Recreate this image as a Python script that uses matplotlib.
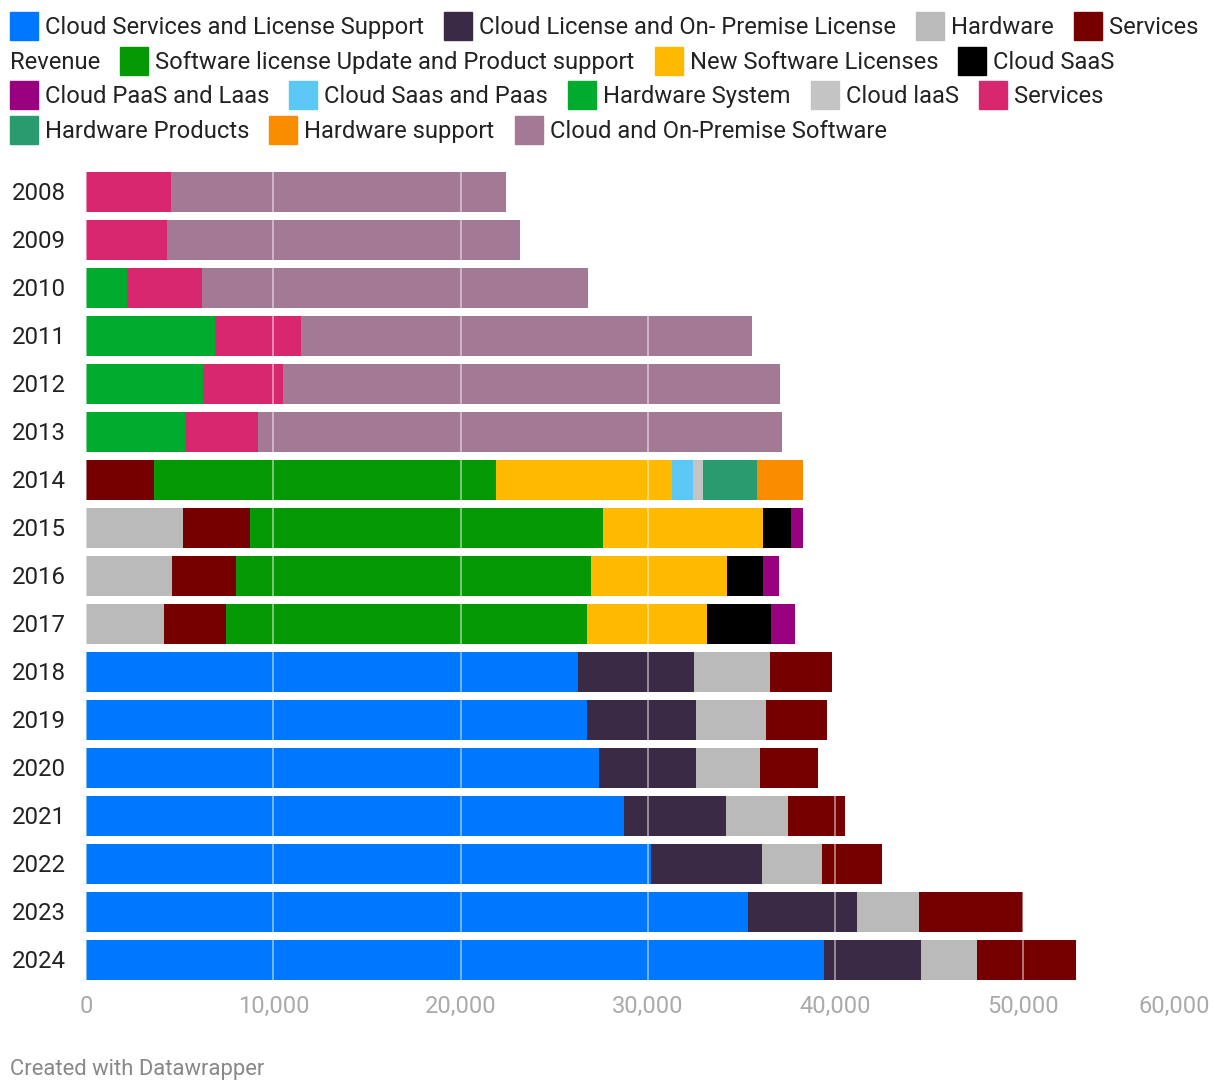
"""
Oracle revenue by segment, stacked horizontal bars (Datawrapper style)
"""

import matplotlib.pyplot as plt
from matplotlib.patches import Rectangle
from matplotlib.transforms import blended_transform_factory
import numpy as np

plt.rcParams["font.family"] = ["Roboto", "DejaVu Sans"]

W, H = 1220, 1092

years = [str(y) for y in range(2008, 2025)]

# values in $ millions; legend order == stacking order
cloud_services_license_support = [0] * 10 + [26240, 26750, 27400, 28700, 30170, 35330, 39390]
cloud_license_on_premise = [0] * 10 + [6220, 5810, 5160, 5460, 5910, 5810, 5160]
hardware = [0] * 7 + [5200, 4580, 4150, 4060, 3760, 3410, 3320, 3210, 3310, 3010]
services = [0] * 6 + [3620, 3540, 3430, 3310, 3310, 3210, 3120, 3010, 3210, 5570, 5280]
revenue = [0] * 17
software_update_support = [0] * 6 + [18280, 18840, 18940, 19270] + [0] * 7
new_software_licenses = [0] * 6 + [9400, 8560, 7280, 6410] + [0] * 7
cloud_saas = [0] * 7 + [1490, 1920, 3440] + [0] * 7
cloud_paas_laas = [0] * 7 + [660, 850, 1280] + [0] * 7
cloud_saas_paas = [0] * 6 + [1110] + [0] * 10
hardware_system = [0, 0, 2200, 6900, 6260, 5310] + [0] * 11
cloud_iaas = [0] * 6 + [530] + [0] * 10
services_old = [4560, 4350, 3970, 4600, 4280, 3850] + [0] * 11
hardware_products = [0] * 6 + [2880] + [0] * 10
hardware_support = [0] * 6 + [2470] + [0] * 10
cloud_on_premise_software = [17840, 18800, 20610, 24030, 26480, 27970] + [0] * 11

labels = [
    "Cloud Services and License Support",
    "Cloud License and On- Premise License",
    "Hardware",
    "Services",
    "Revenue",
    "Software license Update and Product support",
    "New Software Licenses",
    "Cloud SaaS",
    "Cloud PaaS and Laas",
    "Cloud Saas and Paas",
    "Hardware System",
    "Cloud laaS",
    "Services",
    "Hardware Products",
    "Hardware support",
    "Cloud and On-Premise Software",
]
series = [
    cloud_services_license_support, cloud_license_on_premise, hardware, services,
    revenue, software_update_support, new_software_licenses, cloud_saas,
    cloud_paas_laas, cloud_saas_paas, hardware_system, cloud_iaas, services_old,
    hardware_products, hardware_support, cloud_on_premise_software,
]
colors = [
    "#0077ff", "#3b2a45", "#bababa", "#760000", None, "#059a05", "#ffba00",
    "#000000", "#990080", "#5bc8f5", "#00ab2d", "#c4c4c4", "#d9276f",
    "#2a9b6e", "#fa8c00", "#a37996",
]

ticks = [0, 10000, 20000, 30000, 40000, 50000, 60000]


def fx(px):
    return px / W


def fy(py):
    return 1 - py / H


fig = plt.figure(figsize=(W / 100, H / 100), dpi=100)
fig.patch.set_facecolor("white")

# axes box in pixels
left_px, right_px = 86, 1210
top_px, bot_px = 168, 984
ax = fig.add_axes([fx(left_px), fy(bot_px), fx(right_px - left_px), (bot_px - top_px) / H])

y = np.arange(len(years))
cum = np.zeros(len(years))
for vals, c in zip(series, colors):
    vals = np.array(vals, dtype=float)
    if c is not None:
        ax.barh(y, vals, left=cum, height=0.833, color=c, edgecolor="none", zorder=2)
    cum += vals

ax.set_xlim(0, 60000)
ax.set_ylim(len(years) - 0.5, -0.5)
for t in ticks[:-1]:
    ax.axvline(t, color="white", alpha=0.5, lw=1.3, zorder=3)

for s in ax.spines.values():
    s.set_visible(False)
ax.set_yticks([])
ax.set_xticks(ticks)
ax.set_xticklabels([f"{t:,}" for t in ticks], color="#aaaaaa", fontsize=17)
ax.tick_params(axis="x", length=0, pad=8)
ax.get_xticklabels()[-1].set_ha("right")

trans = blended_transform_factory(fig.transFigure, ax.transData)
for i, yr in enumerate(years):
    ax.text(fx(12), i + 0.03, yr, transform=trans, ha="left", va="center",
            fontsize=17.3, color="#222222")

# flow legend
renderer = fig.canvas.get_renderer()
x, row = 10, 0
row_h = 34.7
sw = 28
for lab, c in zip(labels, colors):
    t = fig.text(0, 0, lab, fontsize=17.1, color="#222222", va="center", ha="left")
    tw = t.get_window_extent(renderer).width
    off = 35 if c is not None else 0
    if x + off + tw > 1212 and x > 10:
        row += 1
        x = 10
    cy = 26 + row * row_h
    if c is not None:
        fig.patches.append(Rectangle((fx(x), fy(cy + sw / 2)), fx(sw), sw / H,
                                     transform=fig.transFigure, color=c))
    t.set_position((fx(x + off), fy(cy + 1.5)))
    x = x + off + tw + 20

fig.text(fx(10), fy(1069), "Created with Datawrapper", fontsize=15.8,
         color="#888888", ha="left", va="center")

plt.savefig("out.png", dpi=100)
plt.close(fig)
